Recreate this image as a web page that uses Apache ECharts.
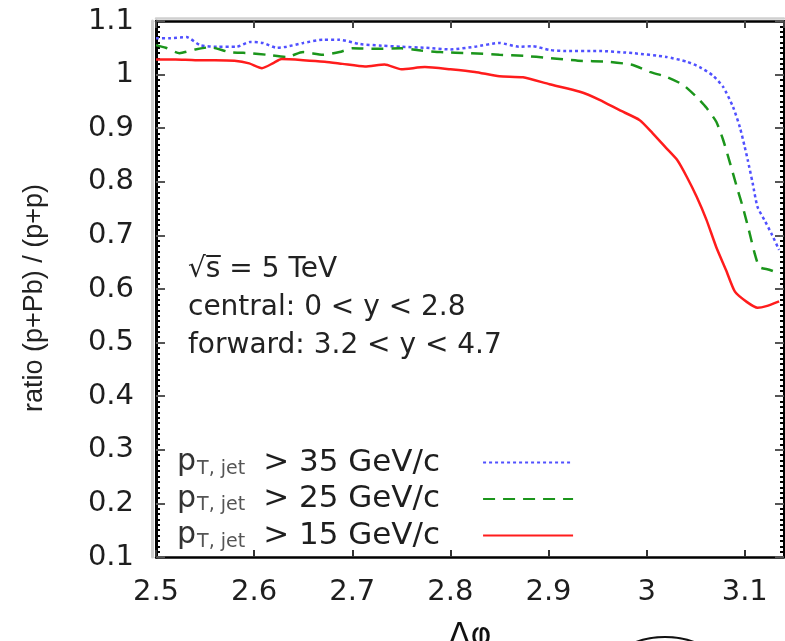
<!DOCTYPE html>
<html><head><meta charset="utf-8">
<script src="https://cdn.jsdelivr.net/npm/echarts@6/dist/echarts.min.js"></script>
<style>html,body{margin:0;padding:0;background:#fff}#c{width:785px;height:641px}</style>
</head><body><div id="c"></div>
<script>
// ---- data ----
const thresholds = ['35', '25', '15'];

const phi35 = [2.500, 2.515, 2.531, 2.545, 2.562, 2.582, 2.596, 2.609, 2.623, 2.633, 2.650, 2.670, 2.687, 2.708, 2.730, 2.750, 2.775, 2.800, 2.825, 2.850, 2.870, 2.884, 2.901, 2.918, 2.952, 2.986, 3.020, 3.041, 3.054, 3.067, 3.078, 3.088, 3.095, 3.100, 3.103, 3.108, 3.113, 3.120, 3.127, 3.135];
const ratio35 = [1.068, 1.068, 1.070, 1.055, 1.052, 1.052, 1.061, 1.059, 1.050, 1.052, 1.059, 1.065, 1.065, 1.057, 1.054, 1.052, 1.050, 1.047, 1.052, 1.059, 1.052, 1.053, 1.046, 1.044, 1.044, 1.040, 1.033, 1.024, 1.014, 0.999, 0.977, 0.940, 0.902, 0.865, 0.841, 0.798, 0.753, 0.729, 0.704, 0.673];

const phi25 = [2.500, 2.510, 2.524, 2.540, 2.555, 2.575, 2.596, 2.613, 2.633, 2.650, 2.670, 2.687, 2.700, 2.725, 2.750, 2.770, 2.790, 2.820, 2.850, 2.875, 2.900, 2.930, 2.960, 2.986, 3.003, 3.020, 3.037, 3.051, 3.061, 3.071, 3.078, 3.085, 3.092, 3.098, 3.105, 3.110, 3.115, 3.125, 3.135];
const ratio25 = [1.055, 1.050, 1.040, 1.047, 1.051, 1.042, 1.040, 1.037, 1.033, 1.042, 1.037, 1.042, 1.049, 1.048, 1.049, 1.045, 1.042, 1.040, 1.037, 1.035, 1.031, 1.026, 1.024, 1.018, 1.005, 0.996, 0.981, 0.958, 0.938, 0.912, 0.878, 0.835, 0.790, 0.753, 0.704, 0.667, 0.641, 0.636, 0.629];

const phi15 = [2.500, 2.520, 2.540, 2.560, 2.580, 2.595, 2.608, 2.620, 2.628, 2.650, 2.672, 2.690, 2.713, 2.733, 2.750, 2.774, 2.800, 2.825, 2.850, 2.874, 2.901, 2.932, 2.952, 2.972, 2.993, 3.006, 3.020, 3.031, 3.041, 3.051, 3.061, 3.071, 3.081, 3.090, 3.102, 3.113, 3.122, 3.135];
const ratio15 = [1.028, 1.028, 1.027, 1.027, 1.026, 1.021, 1.012, 1.022, 1.029, 1.027, 1.024, 1.020, 1.015, 1.019, 1.010, 1.014, 1.010, 1.005, 0.997, 0.995, 0.982, 0.968, 0.953, 0.934, 0.915, 0.891, 0.863, 0.841, 0.809, 0.772, 0.729, 0.678, 0.635, 0.595, 0.576, 0.565, 0.568, 0.577];

const xMin = 2.5, xMax = 3.14, xStep = 0.1;
const yMin = 0.1, yMax = 1.1, yStep = 0.1;
const annotationLines = ['√s̅ = 5 TeV', 'central: 0 < y < 2.8', 'forward: 3.2 < y < 4.7'];
const yTitle = 'ratio (p+Pb) / (p+p)';
const xTitle = 'Δφ';

// ---- styles ----
const FONT = 'DejaVu Sans';
const styles = {
  '35': { color: '#5050ff', width: 2.5, type: [3, 3] },
  '25': { color: '#1b951b', width: 2.5, type: [12, 8] },
  '15': { color: '#ff1c1c', width: 2.5, type: 'solid' }
};
const seriesData = { '35': [phi35, ratio35], '25': [phi25, ratio25], '15': [phi15, ratio15] };

const chart = echarts.init(document.getElementById('c'), null, { renderer: 'canvas' });

const series = thresholds.map(t => ({
  name: t,
  type: 'line',
  symbol: 'none',
  showSymbol: false,
  smooth: 0.2,
  data: seriesData[t][0].map((x, i) => [x, seriesData[t][1][i]]),
  lineStyle: styles[t],
  itemStyle: { color: styles[t].color },
  emphasis: { disabled: true },
  z: 3
}));

const tickLabelStyle = { fontFamily: FONT, fontSize: 29, color: '#1e1e1e' };

chart.setOption({
  animation: false,
  backgroundColor: '#fff',
  grid: { left: 156, top: 21, right: 1, bottom: 84, containLabel: false, outerBoundsMode: 'none' },
  xAxis: [{
    type: 'value', min: xMin, max: xMax, interval: xStep, position: 'bottom',
    name: xTitle, nameLocation: 'middle', nameGap: 64,
    nameTextStyle: { fontFamily: FONT, fontSize: 32, color: '#111' },
    axisLine: { show: true, onZero: false, lineStyle: { color: '#000', width: 2.5 } },
    axisTick: { show: true, inside: true, length: 7, lineStyle: { color: '#333', width: 2 } },
    axisLabel: Object.assign({ margin: 21, showMaxLabel: false }, tickLabelStyle),
    splitLine: { show: false }
  }, {
    type: 'value', min: xMin, max: xMax, interval: xStep, position: 'top',
    axisLine: { show: true, onZero: false, lineStyle: { color: '#000', width: 2.5, shadowColor: '#d0d0d0', shadowOffsetY: -3 } },
    axisTick: { show: true, inside: true, length: 7, lineStyle: { color: '#444', width: 2 } },
    axisLabel: { show: false },
    splitLine: { show: false }
  }],
  yAxis: [{
    type: 'value', min: yMin, max: yMax, interval: yStep, position: 'left',
    name: yTitle, nameLocation: 'middle', nameGap: 108, nameRotate: 90,
    nameTextStyle: { fontFamily: 'Liberation Sans', fontSize: 27, color: '#222', padding: [0, 18, 0, 0] },
    axisLine: { show: true, onZero: false, lineStyle: { color: '#000', width: 3, shadowColor: '#cfcfcf', shadowOffsetX: -4 } },
    axisTick: { show: true, inside: true, length: 9, lineStyle: { color: '#555', width: 2 } },
    minorTick: { show: true, splitNumber: 10, length: 4, lineStyle: { color: '#000', width: 2 } },
    axisLabel: Object.assign({ margin: 22 }, tickLabelStyle),
    splitLine: { show: false }
  }, {
    type: 'value', min: yMin, max: yMax, interval: yStep, position: 'right',
    axisLine: { show: true, onZero: false, lineStyle: { color: '#000', width: 2 } },
    axisTick: { show: true, inside: true, length: 9, lineStyle: { color: '#555', width: 2 } },
    minorTick: { show: true, splitNumber: 10, length: 4, lineStyle: { color: '#000', width: 2 } },
    axisLabel: { show: false },
    splitLine: { show: false }
  }],
  legend: {
    data: thresholds,
    orient: 'vertical',
    left: 177, top: 447,
    padding: 0,
    align: 'right',
    itemWidth: 90, itemHeight: 14, itemGap: 5,
    selectedMode: false,
    itemStyle: { color: 'rgba(0,0,0,0)', borderWidth: 0, opacity: 0 },
    formatter: name => `{p|p}{s|T, jet}{n|> ${name} GeV/c}{pad| }`,
    textStyle: {
      fontFamily: FONT, color: '#222',
      rich: {
        p: { fontFamily: FONT, fontSize: 30, lineHeight: 32, color: '#333' },
        s: { fontFamily: FONT, fontSize: 19, lineHeight: 20, verticalAlign: 'bottom', color: '#555', padding: [0, 18, 0, 1] },
        n: { fontFamily: FONT, fontSize: 31, lineHeight: 32, color: '#1e1e1e' },
        pad: { fontFamily: FONT, fontSize: 30, lineHeight: 32, width: 38 }
      }
    }
  },
  graphic: annotationLines.map((t, i) => ({
    type: 'text', left: 188, top: 256 + i * 38,
    style: { text: t, font: '28px "DejaVu Sans"', fill: '#222' }
  })).concat([{
    type: 'ellipse', shape: { cx: 665, cy: 681, rx: 62, ry: 44 },
    style: { fill: 'none', stroke: '#111', lineWidth: 2 }
  }]),
  series: series
});
</script>
</body></html>
